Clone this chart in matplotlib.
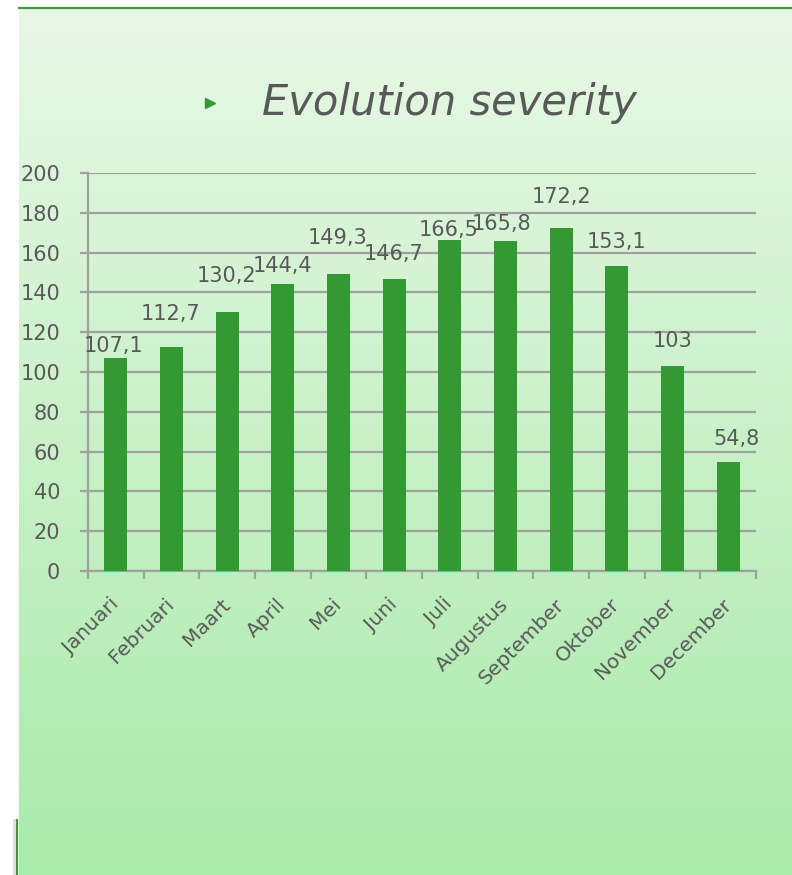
import numpy as np
import matplotlib.pyplot as plt
from matplotlib.lines import Line2D

months = ["Januari", "Februari", "Maart", "April", "Mei", "Juni", "Juli",
          "Augustus", "September", "Oktober", "November", "December"]
severity = [107.1, 112.7, 130.2, 144.4, 149.3, 146.7, 166.5, 165.8,
            172.2, 153.1, 103, 54.8]

# label placement (pixels), copied from the reference's manual label layout
label_dx = [-2, -1, -1, 0, -1, -1, -1, -4, 0, 0, 0, 8]
label_dy = [6, 27, 30, 12, 30, 19, 4, 11, 25, 18, 19, 17]

W, H = 792, 875
fig = plt.figure(figsize=(W / 100, H / 100), dpi=100)
fig.patch.set_facecolor("white")

# gradient panel behind everything
bg = fig.add_axes([19 / W, 0, 1 - 19 / W, (H - 8) / H], zorder=0)
top = np.array([232, 248, 230]) / 255
bot = np.array([170, 234, 170]) / 255
t = np.linspace(0, 1, 256)[:, None]
grad = top + (bot - top) * t
bg.imshow(grad[:, None, :], aspect="auto", extent=[0, 1, 0, 1])
bg.set_axis_off()

# top border and small left edge line
fig.add_artist(Line2D([19 / W, 1], [(H - 8) / H] * 2, color="#3c9a3c", lw=1.6))
fig.add_artist(Line2D([17 / W] * 2, [0, (H - 820) / H], color="#3c9a3c", lw=1.6))
fig.add_artist(Line2D([14 / W] * 2, [0, (H - 820) / H], color="#dddddd", lw=2))

# title with green bullet
fig.text(262 / W, (H - 103) / H, "Evolution severity", fontsize=30, style="italic",
         color="#595959", va="center", ha="left",
         family=["Liberation Sans Narrow", "DejaVu Sans"])
fig.add_artist(Line2D([210 / W], [(H - 103) / H], marker=">", color="#339933",
                      markersize=7, lw=0))

ax = fig.add_axes([88 / W, (H - 571) / H, (756 - 88) / W, (571 - 173) / H], zorder=1)
ax.set_facecolor("none")
x = np.arange(len(months))
bars = ax.bar(x, severity, width=0.41, color="#339933", zorder=3)

ax.set_xlim(-0.5, len(months) - 0.5)
ax.set_ylim(0, 200)
ax.set_yticks(range(0, 201, 20))
ax.yaxis.grid(True, color="#a0a0a0", lw=1.6, zorder=1)
ax.set_axisbelow(True)

for s in ["top", "right"]:
    ax.spines[s].set_visible(False)
for s in ["left", "bottom"]:
    ax.spines[s].set_color("#a0a0a0")
    ax.spines[s].set_linewidth(1.6)

ax.tick_params(axis="y", length=6, width=1.6, color="#a0a0a0", labelsize=15,
               labelcolor="#595959", pad=14)
ax.set_xticks(x)
ax.set_xticklabels(months, rotation=45, ha="right", va="center",
                   rotation_mode="anchor", fontsize=14.5, color="#595959")
ax.tick_params(axis="x", which="major", length=0, pad=22)
ax.set_xticks(np.arange(-0.5, len(months), 1), minor=True)
ax.tick_params(axis="x", which="minor", length=6, width=1.6, color="#a0a0a0")

for i, v in enumerate(severity):
    txt = f"{v:g}".replace(".", ",")
    ax.annotate(txt, (x[i], v), xytext=(label_dx[i] * 0.72, label_dy[i] * 0.72),
                textcoords="offset points", ha="center", va="baseline",
                fontsize=15, color="#595959", zorder=4)

fig.savefig("out.png", dpi=100)
